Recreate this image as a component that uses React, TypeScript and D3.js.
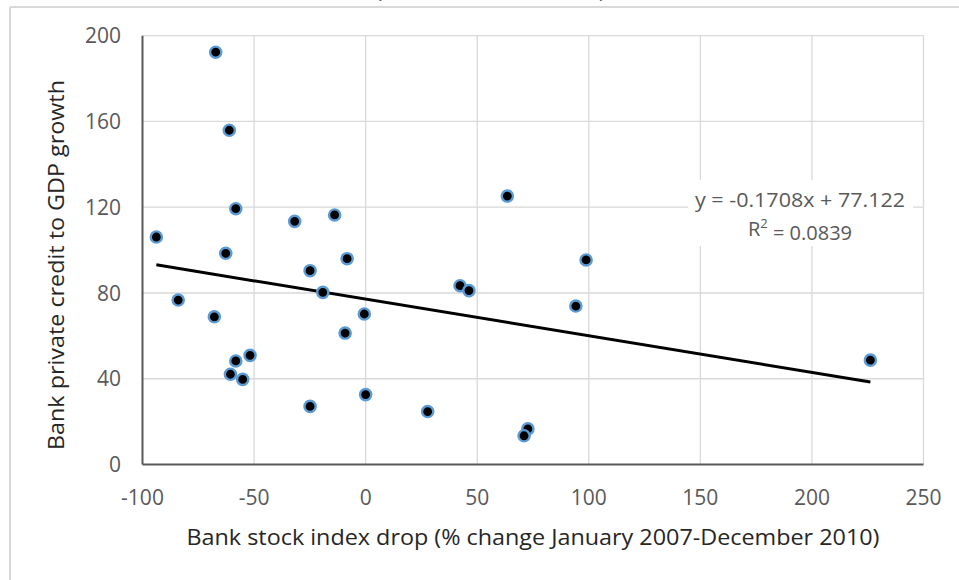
import React from 'react';
import * as d3 from 'd3';

// Bank stock index drop (% change Jan 2007 - Dec 2010), one value per country
const stockDrop = [
  -67.2, -61.1, -58.2, -93.8, -62.7, -31.8, -13.9, -8.3, -24.9, -84.0,
  -19.2, -67.8, -0.6, -9.2, -51.8, -58.2, -60.6, -55.1, -24.9, 0.0,
  27.8, 63.5, 98.8, 42.3, 46.3, 94.2, 72.7, 71.0, 226.2,
];

// Bank private credit to GDP growth, same order
const creditGrowth = [
  192.3, 155.9, 119.3, 106.1, 98.5, 113.4, 116.4, 96.0, 90.4, 76.7,
  80.3, 68.9, 70.2, 61.3, 50.9, 48.3, 42.1, 39.7, 27.1, 32.6,
  24.7, 125.2, 95.4, 83.4, 81.1, 73.9, 16.6, 13.4, 48.7,
];

const xTicks = [-100, -50, 0, 50, 100, 150, 200, 250];
const yTicks = [0, 40, 80, 120, 160, 200];

const trendSlope = -0.1708;
const trendIntercept = 77.122;
const rSquared = 0.0839;

const xTitle = 'Bank stock index drop (% change January 2007-December 2010)';
const yTitle = 'Bank private credit to GDP growth';

const W = 959;
const H = 580;
const FONT = '"Open Sans", "Noto Sans", sans-serif';

export default function App() {
  const x = d3.scaleLinear().domain([-100, 250]).range([142.5, 923.5]);
  const y = d3.scaleLinear().domain([0, 200]).range([464.5, 35.7]);

  const points = stockDrop.map((v, i) => ({ x: v, y: creditGrowth[i] }));

  // trend line spans the data's x range
  const xMin = d3.min(stockDrop) ?? -100;
  const xMax = d3.max(stockDrop) ?? 250;
  const trend = d3
    .line<number>()
    .x(d => x(d))
    .y(d => y(trendSlope * d + trendIntercept))([xMin, xMax]);

  const eqX = 800;

  return (
    <svg
      width={W}
      height={H}
      style={{ position: 'absolute', left: 0, top: 0, background: '#fff' }}
      fontFamily={FONT}
    >
      {/* chart frame, cut at the top */}
      <rect x={0} y={0} width={W} height={H} fill="#fff" />
      <line x1={10} y1={7} x2={W} y2={7} stroke="#d9d9d9" strokeWidth={2} />
      <line x1={10} y1={7} x2={10} y2={H} stroke="#d9d9d9" strokeWidth={2} />

      {/* remains of the clipped title */}
      <text x={379} y={-2} fontSize={21} textAnchor="middle" fill="#595959">(</text>
      <text x={602} y={-2} fontSize={21} textAnchor="middle" fill="#595959">)</text>

      {/* gridlines */}
      {yTicks.filter(t => t !== 0).map(t => (
        <line key={'gy' + t} x1={x(-100)} x2={x(250)} y1={y(t)} y2={y(t)} stroke="#d9d9d9" strokeWidth={1.3} />
      ))}
      {xTicks.filter(t => t !== -100).map(t => (
        <line key={'gx' + t} x1={x(t)} x2={x(t)} y1={y(200)} y2={y(0)} stroke="#d9d9d9" strokeWidth={1.3} />
      ))}

      {/* axes */}
      <line x1={x(-100)} x2={x(-100)} y1={y(200)} y2={y(0)} stroke="#595959" strokeWidth={2} />
      <line x1={x(-100)} x2={x(250)} y1={y(0)} y2={y(0)} stroke="#595959" strokeWidth={2} />

      {/* tick labels */}
      {yTicks.map(t => (
        <text key={'ty' + t} x={121} y={y(t)} dy="0.36em" textAnchor="end" fontSize={21} fill="#595959">
          {t}
        </text>
      ))}
      {xTicks.map(t => (
        <text key={'tx' + t} x={x(t)} y={497} dy="0.36em" textAnchor="middle" fontSize={21} fill="#595959">
          {t}
        </text>
      ))}

      {/* axis titles */}
      <text x={533} y={537} dy="0.36em" textAnchor="middle" fontSize={22} fill="#262626"
        textLength={693} lengthAdjust="spacingAndGlyphs">
        {xTitle}
      </text>
      <text transform="translate(56,265) rotate(-90)" dy="0.36em" textAnchor="middle" fontSize={22} fill="#262626"
        textLength={370} lengthAdjust="spacingAndGlyphs">
        {yTitle}
      </text>

      {/* trend line */}
      <path d={trend ?? ''} fill="none" stroke="#000" strokeWidth={3} />

      {/* points */}
      {points.map((p, i) => (
        <circle key={i} cx={x(p.x)} cy={y(p.y)} r={5.6} fill="#000" stroke="#5b9bd5" strokeWidth={2.4} />
      ))}

      {/* trend equation label */}
      <rect x={688} y={180} width={225} height={66} fill="#fff" />
      <text x={eqX} y={200} dy="0.36em" textAnchor="middle" fontSize={20} fill="#595959"
        textLength={210} lengthAdjust="spacingAndGlyphs">
        {`y = ${trendSlope}x + ${trendIntercept}`}
      </text>
      <text x={eqX} y={229} dy="0.36em" textAnchor="middle" fontSize={20} fill="#595959">
        R<tspan fontSize={13} dy="-0.6em">2</tspan>
        <tspan dy="0.6em">{` = ${rSquared}`}</tspan>
      </text>
    </svg>
  );
}
